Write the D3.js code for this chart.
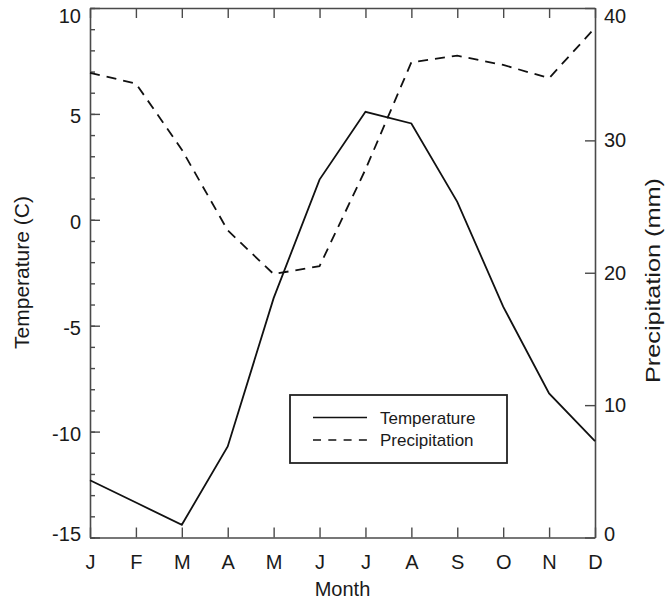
<!DOCTYPE html>
<html>
<head>
<meta charset="utf-8">
<script src="https://cdn.jsdelivr.net/npm/d3@7"></script>
<style>
  html, body { margin: 0; padding: 0; background: #fff; }
  svg { display: block; font-family: "Liberation Sans", Arial, sans-serif; }
</style>
</head>
<body>
<svg id="chart" width="666" height="602"></svg>
<script>
const months = ["J","F","M","A","M","J","J","A","S","O","N","D"];
const temperature = [-12.3, -13.35, -14.4, -10.7, -3.7, 1.9, 5.1, 4.55, 0.85, -4.1, -8.2, -10.45];
const precipitation = [35.1, 34.3, 29.3, 23.2, 19.9, 20.5, 27.8, 35.9, 36.4, 35.7, 34.7, 38.5];
const tempTicks = [-15, -10, -5, 0, 5, 10];
const tempMinorTicks = d3.range(-15, 11, 1);
const precipTicks = [0, 10, 20, 30, 40];
const legendItems = ["Temperature", "Precipitation"];

const svg = d3.select("#chart");
const L = 90, R = 595, T = 8, B = 537.5;
const axisColor = "#4a4a4a", textColor = "#1a1a1a";

const x = d3.scaleLinear().domain([0, 11]).range([L, R]);
const yT = d3.scaleLinear().domain([-15, 10]).range([B, T]);
const yP = d3.scaleLinear().domain([0, 40]).range([B, T]);

function styleAxis(g) {
  g.attr("font-size", null).attr("font-family", null);
  g.selectAll("path.domain").attr("stroke", axisColor).attr("stroke-width", 1.6);
  g.selectAll(".tick line").attr("stroke", axisColor).attr("stroke-width", 1.4);
  g.selectAll(".tick text").attr("fill", textColor).style("font-size", "20px")
    .style("font-family", '"Liberation Sans", Arial, sans-serif');
}
function clampLabels(g, scale, off) {
  g.selectAll(".tick text").attr("y", d => {
    const p = scale(d);
    return Math.max(T + 8.5, Math.min(B - 3, p + off)) - p;
  });
}
const plain = d => String(d);

// minor ticks left
const gMinor = svg.append("g").attr("transform", `translate(${L},0)`)
  .call(d3.axisLeft(yT).tickValues(tempMinorTicks).tickSize(-5).tickFormat(""));
gMinor.select("path.domain").remove();
styleAxis(gMinor);

// left axis
const gL = svg.append("g").attr("transform", `translate(${L},0)`)
  .call(d3.axisLeft(yT).tickValues(tempTicks).tickSize(-10).tickSizeOuter(0).tickPadding(9).tickFormat(plain));
styleAxis(gL);
clampLabels(gL, yT, 2);

// right axis
const gR = svg.append("g").attr("transform", `translate(${R},0)`)
  .call(d3.axisRight(yP).tickValues(precipTicks).tickSize(-10).tickSizeOuter(0).tickPadding(9).tickFormat(plain));
styleAxis(gR);
clampLabels(gR, yP, 0);

// bottom axis
const gB = svg.append("g").attr("transform", `translate(0,${B})`)
  .call(d3.axisBottom(x).tickValues(d3.range(12)).tickSize(-10).tickSizeOuter(0).tickPadding(17)
    .tickFormat(i => months[i]));
styleAxis(gB);

// top axis
const gT = svg.append("g").attr("transform", `translate(0,${T})`)
  .call(d3.axisTop(x).tickValues(d3.range(12)).tickSize(-10).tickSizeOuter(0).tickFormat(""));
styleAxis(gT);

// lines
const lineT = d3.line().x((d, i) => x(i)).y(d => yT(d));
const lineP = d3.line().x((d, i) => x(i)).y(d => yP(d));

svg.append("path").datum(precipitation).attr("d", lineP)
  .attr("fill", "none").attr("stroke", "#111").attr("stroke-width", 1.8)
  .attr("stroke-dasharray", "10,7");
svg.append("path").datum(temperature).attr("d", lineT)
  .attr("fill", "none").attr("stroke", "#111").attr("stroke-width", 1.8);

// axis titles
svg.append("text").attr("transform", `translate(28.5,272.5) rotate(-90)`)
  .attr("text-anchor", "middle").attr("fill", textColor).style("font-size", "21px")
  .text("Temperature (C)");
svg.append("text").attr("transform", `translate(660,280.5) rotate(-90)`)
  .attr("text-anchor", "middle").attr("fill", textColor).style("font-size", "20px")
  .attr("textLength", 205).attr("lengthAdjust", "spacingAndGlyphs")
  .text("Precipitation (mm)");
svg.append("text").attr("x", (L + R) / 2).attr("y", 596)
  .attr("text-anchor", "middle").attr("fill", textColor).style("font-size", "20px")
  .text("Month");

// legend
const lg = svg.append("g");
lg.append("rect").attr("x", 290).attr("y", 395).attr("width", 217).attr("height", 68)
  .attr("fill", "#fff").attr("stroke", "#222").attr("stroke-width", 1.8);
legendItems.forEach((name, i) => {
  const yy = 417.5 + i * 22.5;
  lg.append("line").attr("x1", 313).attr("x2", 367).attr("y1", yy).attr("y2", yy)
    .attr("stroke", "#111").attr("stroke-width", 1.6)
    .attr("stroke-dasharray", i === 1 ? "8,7.3" : null);
  lg.append("text").attr("x", 380).attr("y", yy + 6).attr("fill", textColor)
    .style("font-size", "17px").text(name);
});
</script>
</body>
</html>
